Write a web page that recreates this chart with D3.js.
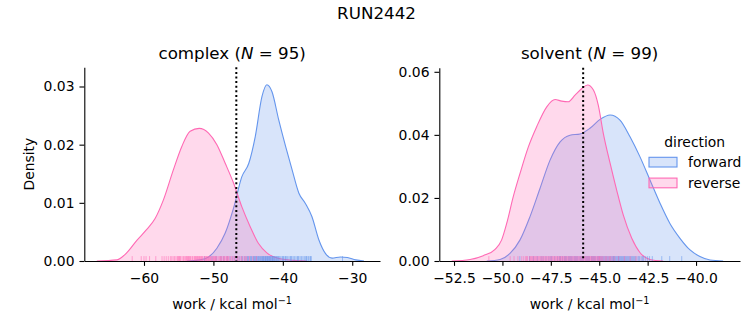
<!DOCTYPE html>
<html>
<head>
<meta charset="utf-8">
<script src="https://cdn.jsdelivr.net/npm/d3@7"></script>
<style>
  body { margin: 0; background: #fff; }
  svg { display: block; font-family: "DejaVu Sans", sans-serif; }
</style>
</head>
<body>
<svg id="chart" width="753" height="325"></svg>
<script>
// ---------------- DATA ----------------
const suptitle = "RUN2442";
const directions = ["forward", "reverse"];
const colors = { forward: "#6495ED", reverse: "#FF69B4" };

// complex panel: KDE curves [work, density]
const complexForwardX = [-53.8, -51.9, -50.7, -49.5, -48.3, -47.1, -45.9, -44.9, -43.97, -43.0, -42.3, -41.56, -40.6, -39.6, -38.67, -37.7, -36.75, -35.8, -34.8, -33.87, -32.9, -31.7, -30.7, -29.5, -28.3];
const complexForwardD = [0.0, 0.0002, 0.0007, 0.0022, 0.0048, 0.0091, 0.0145, 0.0168, 0.0214, 0.0283, 0.0303, 0.0291, 0.0243, 0.0197, 0.0157, 0.0117, 0.0099, 0.0076, 0.0036, 0.0013, 0.0005, 0.0007, 0.0006, 0.0002, 0.0];
const complexReverseX = [-66.8, -63.9, -62.5, -61.0, -59.7, -58.4, -57.2, -55.76, -54.55, -53.35, -52.05, -50.7, -49.5, -48.3, -47.1, -45.9, -44.7, -43.5, -42.3, -40.8, -38.4, -36.5];
const complexReverseD = [0.0, 0.0002, 0.0014, 0.0036, 0.0053, 0.0073, 0.0105, 0.0157, 0.0197, 0.0223, 0.0228, 0.0220, 0.0200, 0.0168, 0.0134, 0.0093, 0.0059, 0.0030, 0.0014, 0.0005, 0.0001, 0.0];

// solvent panel KDE curves
const solventForwardX = [-50.81, -50.12, -49.61, -49.09, -48.58, -48.06, -47.54, -47.02, -46.51, -45.99, -45.48, -44.96, -44.44, -43.93, -43.41, -42.9, -42.38, -41.86, -41.35, -40.83, -40.31, -39.8, -39.28, -38.6];
const solventForwardD = [0.0, 0.0005, 0.0024, 0.0067, 0.0140, 0.0230, 0.0320, 0.0378, 0.0399, 0.0403, 0.0421, 0.0449, 0.0463, 0.0447, 0.0394, 0.0331, 0.0257, 0.0183, 0.0119, 0.0072, 0.0035, 0.0014, 0.0003, 0.0];
const solventReverseX = [-52.62, -51.67, -50.99, -50.38, -50.04, -49.78, -49.44, -49.09, -48.66, -48.23, -47.71, -47.28, -46.94, -46.6, -46.25, -45.9, -45.6, -45.3, -45.05, -44.79, -44.44, -44.1, -43.76, -43.32, -42.9, -42.38, -41.7];
const solventReverseD = [0.0, 0.0005, 0.0017, 0.0037, 0.0067, 0.0119, 0.0204, 0.0278, 0.0362, 0.0426, 0.0489, 0.0512, 0.0507, 0.0505, 0.0526, 0.0547, 0.0558, 0.0542, 0.0494, 0.0405, 0.0310, 0.0225, 0.0146, 0.0072, 0.0027, 0.0005, 0.0];

// rug samples (work values, kcal/mol)
const complexForwardRug = [-51.3, -50.2, -49.6, -48.9, -48.5, -48.0, -47.6, -47.2, -46.9, -46.6, -46.3, -46.0, -45.8, -45.5, -45.3, -45.1, -45.0, -44.9, -44.7, -44.6, -44.5, -44.3, -44.2, -44.1, -44.0, -43.9, -43.8, -43.7, -43.6, -43.5, -43.4, -43.3, -43.2, -43.1, -43.0, -42.9, -42.85, -42.8, -42.7, -42.6, -42.5, -42.45, -42.4, -42.3, -42.2, -42.15, -42.1, -42.0, -41.9, -41.85, -41.8, -41.7, -41.6, -41.5, -41.45, -41.4, -41.3, -41.2, -41.1, -41.0, -40.9, -40.8, -40.7, -40.6, -40.5, -40.3, -40.1, -40.0, -39.9, -39.7, -39.6, -39.5, -39.3, -39.1, -38.9, -38.8, -38.7, -38.5, -38.3, -38.1, -37.9, -37.8, -37.7, -37.5, -37.3, -37.1, -36.9, -36.7, -36.6, -36.5, -36.3, -36.1, -36.0, -35.9, -31.4];
const complexReverseRug = [-61.7, -60.4, -60.0, -59.7, -59.2, -58.3, -57.4, -57.1, -56.8, -56.5, -56.2, -56.0, -55.8, -55.6, -55.4, -55.2, -55.1, -55.0, -54.9, -54.8, -54.7, -54.5, -54.3, -54.2, -54.0, -53.9, -53.8, -53.7, -53.6, -53.5, -53.4, -53.3, -53.1, -53.0, -52.8, -52.7, -52.6, -52.5, -52.4, -52.3, -52.2, -52.1, -52.0, -51.9, -51.8, -51.7, -51.6, -51.5, -51.3, -51.2, -51.1, -51.0, -50.9, -50.8, -50.7, -50.6, -50.5, -50.4, -50.3, -50.1, -50.0, -49.9, -49.8, -49.7, -49.6, -49.5, -49.3, -49.1, -49.0, -48.9, -48.8, -48.6, -48.5, -48.4, -48.2, -48.1, -48.0, -47.9, -47.8, -47.6, -47.4, -47.2, -47.0, -46.9, -46.6, -46.5, -46.3, -46.0, -45.9, -45.6, -45.4, -45.2, -44.8, -44.3, -43.8];
const solventForwardRug = [-49.1, -48.6, -48.4, -48.2, -47.9, -47.75, -47.6, -47.45, -47.3, -47.15, -47.0, -46.9, -46.8, -46.7, -46.6, -46.5, -46.4, -46.3, -46.2, -46.1, -46.0, -45.9, -45.8, -45.7, -45.6, -45.5, -45.4, -45.3, -45.2, -45.1, -45.0, -44.9, -44.85, -44.8, -44.7, -44.6, -44.55, -44.5, -44.45, -44.4, -44.35, -44.3, -44.25, -44.2, -44.15, -44.1, -44.05, -44.0, -43.95, -43.9, -43.85, -43.8, -43.75, -43.7, -43.65, -43.6, -43.5, -43.45, -43.4, -43.3, -43.2, -43.1, -43.0, -42.9, -42.8, -42.7, -42.6, -42.5, -42.26, -41.77, -41.36, -40.74, -48.0, -47.5, -47.05, -46.75, -46.45, -46.15, -45.85, -45.55, -45.25, -44.95, -44.75, -44.65, -44.0, -43.55, -43.35, -43.15, -42.95, -42.75, -42.4, -46.55, -46.25, -45.95, -45.65, -45.35, -45.05, -44.25, -43.25];
const solventReverseRug = [-50.7, -49.6, -49.4, -49.2, -49.0, -48.9, -48.8, -48.75, -48.7, -48.6, -48.55, -48.5, -48.45, -48.4, -48.35, -48.3, -48.2, -48.15, -48.1, -48.05, -48.0, -47.95, -47.9, -47.85, -47.8, -47.7, -47.65, -47.6, -47.55, -47.5, -47.45, -47.4, -47.35, -47.3, -47.25, -47.2, -47.15, -47.1, -47.05, -47.0, -46.95, -46.9, -46.85, -46.8, -46.7, -46.65, -46.6, -46.5, -46.45, -46.4, -46.35, -46.3, -46.25, -46.2, -46.1, -46.05, -46.0, -45.95, -45.9, -45.85, -45.8, -45.75, -45.7, -45.65, -45.6, -45.55, -45.5, -45.45, -45.4, -45.35, -45.3, -45.25, -45.2, -45.15, -45.1, -45.05, -45.0, -44.9, -44.85, -44.8, -44.7, -44.6, -44.5, -44.4, -44.3, -44.2, -44.0, -43.7, -43.4, -43.1, -48.25, -47.75, -46.75, -46.55, -46.15, -45.0, -44.95, -44.65, -44.45];

// mean (dotted lines)
const complexMean = -46.7;
const solventMean = -45.83;

// panel meta / ticks
const panelNames = ["complex", "solvent"];
const panelN = [95, 99];
const complexXTicks = [-60, -50, -40, -30];
const complexYTicks = [0, 0.01, 0.02, 0.03];
const solventXTicks = [-52.5, -50, -47.5, -45, -42.5, -40];
const solventYTicks = [0, 0.02, 0.04, 0.06];
const xLabelText = "work / kcal mol";
const yLabelText = "Density";
const legendTitle = "direction";

// ---------------- DRAW ----------------
const svg = d3.select("#chart");
const FS = 13.9, TFS = 16.7, TICK = 4.86;

svg.append("text").attr("x", 376.5).attr("y", 18.5).attr("text-anchor", "middle")
  .attr("font-size", TFS).attr("fill", "#000").text(suptitle);

const zip = (xs, ds) => xs.map((x, i) => ({ x, d: ds[i] }));

const panels = [
  {
    name: panelNames[0], n: panelN[0],
    x: d3.scaleLinear().domain([-68.6, -26.0]).range([84.3, 380]),
    y: d3.scaleLinear().domain([0, 0.0333]).range([261, 67.3]),
    xt: complexXTicks, yt: complexYTicks, xf: d3.format("d"), mean: complexMean,
    curves: { forward: zip(complexForwardX, complexForwardD), reverse: zip(complexReverseX, complexReverseD) },
    rugs: { forward: complexForwardRug, reverse: complexReverseRug }, ylabel: true
  },
  {
    name: panelNames[1], n: panelN[1],
    x: d3.scaleLinear().domain([-53.26, -37.73]).range([439.3, 740]),
    y: d3.scaleLinear().domain([0, 0.0613]).range([261, 67.7]),
    xt: solventXTicks, yt: solventYTicks, xf: d3.format(".1f"), mean: solventMean,
    curves: { forward: zip(solventForwardX, solventForwardD), reverse: zip(solventReverseX, solventReverseD) },
    rugs: { forward: solventForwardRug, reverse: solventReverseRug }, ylabel: false
  }
];

panels.forEach(p => {
  const g = svg.append("g");
  const [x0, x1] = p.x.range();
  const [yb, yt] = p.y.range();

  // KDE areas
  directions.forEach(dir => {
    const area = d3.area().x(d => p.x(d.x)).y0(p.y(0)).y1(d => p.y(d.d)).curve(d3.curveMonotoneX);
    const line = d3.line().x(d => p.x(d.x)).y(d => p.y(d.d)).curve(d3.curveMonotoneX);
    g.append("path").datum(p.curves[dir]).attr("d", area)
      .attr("fill", colors[dir]).attr("fill-opacity", 0.25).attr("stroke", "none");
    g.append("path").datum(p.curves[dir]).attr("d", line)
      .attr("fill", "none").attr("stroke", colors[dir]).attr("stroke-width", 1.1);
  });

  // rugs
  directions.forEach(dir => {
    g.append("g").selectAll("line").data(p.rugs[dir]).join("line")
      .attr("x1", d => p.x(d)).attr("x2", d => p.x(d))
      .attr("y1", yb).attr("y2", yb - 4.9)
      .attr("stroke", colors[dir]).attr("stroke-width", 1).attr("stroke-opacity", 0.55);
  });

  // mean dotted line
  g.append("line").attr("x1", p.x(p.mean)).attr("x2", p.x(p.mean))
    .attr("y1", yt).attr("y2", yb)
    .attr("stroke", "#000").attr("stroke-width", 2).attr("stroke-dasharray", "2,2.6");

  // axes
  const ax = g.append("g").attr("transform", `translate(0,${yb})`)
    .call(d3.axisBottom(p.x).tickValues(p.xt).tickFormat(p.xf).tickSize(TICK).tickSizeOuter(0).tickPadding(7.5));
  const ay = g.append("g").attr("transform", `translate(${x0},0)`)
    .call(d3.axisLeft(p.y).tickValues(p.yt).tickFormat(d3.format(".2f")).tickSize(TICK).tickSizeOuter(0).tickPadding(4.9));
  [ax, ay].forEach(a => {
    a.selectAll("text").attr("font-size", FS).attr("font-family", "DejaVu Sans").attr("fill", "#000");
    a.selectAll("line").attr("stroke", "#000").attr("stroke-width", 1.1);
    a.select(".domain").attr("stroke", "#000").attr("stroke-width", 1.1);
  });

  const cx = (x0 + x1) / 2;
  // title
  const t = g.append("text").attr("x", cx).attr("y", 59).attr("text-anchor", "middle")
    .attr("font-size", TFS).attr("fill", "#000");
  t.append("tspan").text(p.name + " (");
  t.append("tspan").attr("font-style", "italic").text("N");
  t.append("tspan").text(" = " + p.n + ")");

  // xlabel
  const xl = g.append("text").attr("x", cx).attr("y", 309).attr("text-anchor", "middle")
    .attr("font-size", FS).attr("fill", "#000");
  xl.append("tspan").text(xLabelText);
  xl.append("tspan").attr("font-size", FS * 0.7).attr("dy", -5.5).text("\u22121");

  if (p.ylabel) {
    g.append("text").attr("transform", `translate(34,${(yb + yt) / 2}) rotate(-90)`)
      .attr("text-anchor", "middle").attr("font-size", FS).attr("fill", "#000").text(yLabelText);
  }
});

// legend
const lg = svg.append("g");
lg.append("text").attr("x", 694.7).attr("y", 146.5).attr("text-anchor", "middle")
  .attr("font-size", FS).attr("fill", "#000").text(legendTitle);
directions.forEach((dir, i) => {
  const yy = 157.3 + i * 20.8;
  lg.append("rect").attr("x", 649).attr("y", yy).attr("width", 28).attr("height", 9.7)
    .attr("fill", colors[dir]).attr("fill-opacity", 0.25).attr("stroke", colors[dir]).attr("stroke-width", 1.1);
  lg.append("text").attr("x", 688).attr("y", yy + 9.9).attr("font-size", FS).attr("fill", "#000").text(dir);
});
</script>
</body>
</html>
